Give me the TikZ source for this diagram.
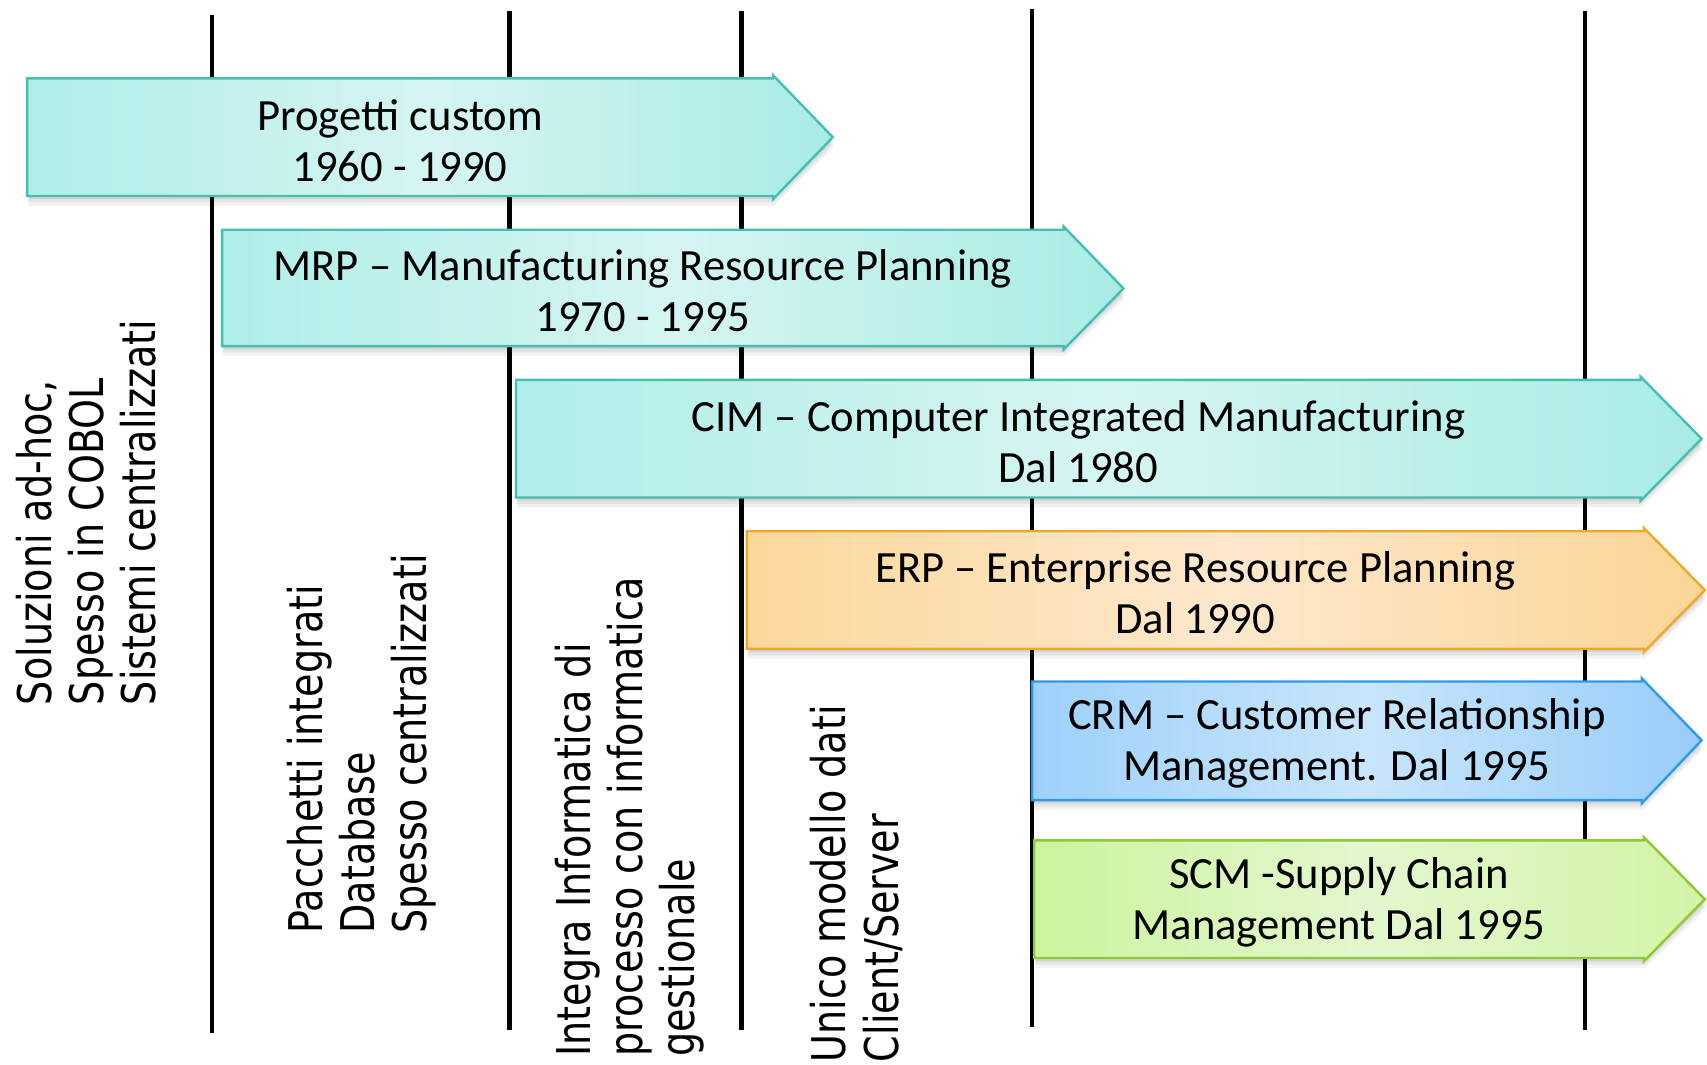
\documentclass[tikz,border=0pt]{standalone}
\usepackage{fontspec}
\usepackage{graphicx}
\setmainfont{Carlito}
\newfontfamily\vfont{DejaVu Sans}
\definecolor{tealL}{HTML}{B0EEE8}
\definecolor{tealM}{HTML}{D6F5F2}
\definecolor{tealR}{HTML}{A8ECE4}
\definecolor{tealB}{HTML}{45BFB2}
\definecolor{orgL}{HTML}{FCD89C}
\definecolor{orgM}{HTML}{FDE8CD}
\definecolor{orgR}{HTML}{FCD596}
\definecolor{orgB}{HTML}{F0A82A}
\definecolor{bluL}{HTML}{9ED1FA}
\definecolor{bluM}{HTML}{C8E5FC}
\definecolor{bluR}{HTML}{98CDF9}
\definecolor{bluB}{HTML}{2C9CE8}
\definecolor{grnL}{HTML}{CCF49E}
\definecolor{grnM}{HTML}{E3F7CE}
\definecolor{grnR}{HTML}{D2F4A6}
\definecolor{grnB}{HTML}{8EC833}
\newcommand\mkband[7]{%
  \foreach \d/\o in {3/0.07,6/0.06,9/0.05}{%
    \fill[black, opacity=\o] (#1+1,#2+\d) -- (#4+1,#2+\d) -- (#5+1,#6+\d) -- (#4+1,#3+\d) -- (#1+1,#3+\d) -- cycle;}
  \draw[band, draw=#7B, left color=#7L, right color=#7R, middle color=#7M]
    (#1,#2) -- (#4,#2) -- (#4,#2-3) -- (#5,#6) -- (#4,#3+3) -- (#4,#3) -- (#1,#3) -- cycle;}
\begin{document}
\begin{tikzpicture}[x=0.5pt,y=-0.5pt,
  vline/.style={line width=2pt, black},
  band/.style={line width=1.1pt, line join=miter},
  bandtext/.style={align=center, inner sep=0pt, font=\fontsize{20.5}{23.5}\selectfont},
  coltext/.style={rotate=90, anchor=north west, inner sep=0pt, font=\vfont\fontsize{17.5}{19.7}\selectfont}]
\useasboundingbox (0,0) rectangle (1568,978);
% vertical time lines
\draw[vline] (195,14) coordinate (l1t) -- (195,949) coordinate (l1b);
\draw[vline] (468,10) coordinate (l2t) -- (468,946) coordinate (l2b);
\draw[vline] (681,10) coordinate (l3t) -- (681,946) coordinate (l3b);
\draw[vline] (948,8) coordinate (l4t) -- (948,943) coordinate (l4b);
\draw[vline] (1456,10) coordinate (l5t) -- (1456,946) coordinate (l5b);
% bands
\mkband{25}{72}{180}{710}{765}{126}{teal}
\mkband{204}{211}{318}{977}{1032}{265}{teal}
\mkband{474}{349}{457}{1507}{1563}{403}{teal}
\mkband{686}{488}{596}{1510}{1566}{542}{org}
\mkband{948}{626}{735}{1508}{1563}{680}{blu}
\mkband{950}{772}{880}{1510}{1566}{826}{grn}
% band texts
\node[bandtext] (t1) at (367.5,129) {Progetti custom\\1960 - 1990};
\node[bandtext] (t2) at (590.5,267) {MRP -- Manufacturing Resource Planning\\1970 - 1995};
\node[bandtext] (t3) at (990.5,406) {CIM -- Computer Integrated Manufacturing\\Dal 1980};
\node[bandtext] (t4) at (1098,544.5) {ERP -- Enterprise Resource Planning\\Dal 1990};
\node[bandtext] (t5) at (1228,683) {CRM -- Customer Relationship\\Management. Dal 1995};
\node[bandtext] (t6) at (1230,829) {SCM -Supply Chain\\Management Dal 1995};
% rotated column texts
\node[coltext] (c1) at (13,648) {\scalebox{1}[1.22]{\begin{tabular}{@{}l@{}}Soluzioni ad-hoc,\\Spesso in COBOL\\Sistemi centralizzati\end{tabular}}};
\node[coltext] (c2) at (262,858) {\scalebox{1}[1.22]{\begin{tabular}{@{}l@{}}Pacchetti integrati\\Database\\Spesso centralizzati\end{tabular}}};
\node[coltext] (c3) at (508,971) {\scalebox{1}[1.22]{\begin{tabular}{@{}l@{}}Integra Informatica di\\processo con informatica\\gestionale\end{tabular}}};
\node[coltext] (c4) at (743,976) {\scalebox{1}[1.22]{\begin{tabular}{@{}l@{}}Unico modello dati\\Client/Server\end{tabular}}};
\end{tikzpicture}
\end{document}
